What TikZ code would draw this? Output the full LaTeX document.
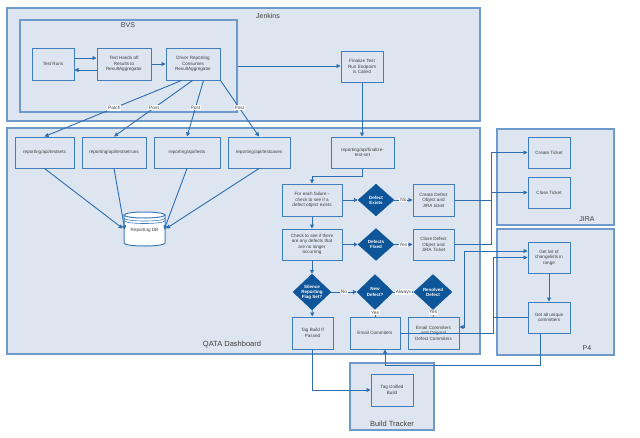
\documentclass[tikz,border=0pt]{standalone}
\usepackage{fontspec}
\setmainfont{Liberation Sans}
\usetikzlibrary{shapes.geometric,arrows.meta,calc}
\definecolor{cfill}{HTML}{DCE5F0}
\definecolor{cborder}{HTML}{6E9ACB}
\definecolor{bborder}{HTML}{3F7DBD}
\definecolor{lnc}{HTML}{2E6DB0}
\definecolor{dfill}{HTML}{0F5599}
\definecolor{txt}{HTML}{404040}
\begin{document}
\begin{tikzpicture}[x=1pt,y=-1pt]
\tikzset{
 cont/.style={draw=cborder, line width=1.2pt, fill=cfill, inner sep=0pt},
 box/.style={draw=bborder, line width=1pt, fill=cfill, inner sep=1pt, align=center, text=txt, font=\fontsize{4.6}{5.4}\selectfont},
 dec/.style={diamond, fill=dfill, draw=dfill, inner sep=0pt, align=center, text=white, font=\bfseries\fontsize{4.5}{5.1}\selectfont},
 conn/.style={draw=lnc, line width=0.9pt},
 arr/.style={conn, -{Triangle[length=4pt,width=4pt]}},
 arrb/.style={conn, {Triangle[length=4pt,width=4pt]}-{Triangle[length=4pt,width=4pt]}},
 lbl/.style={fill=white, inner sep=0.8pt, text=txt, font=\fontsize{4.8}{5.4}\selectfont},
 ctitle/.style={text=txt, font=\fontsize{7}{8}\selectfont},
}
\fill[white] (0,0) rectangle (640,437);
\useasboundingbox (0,0) rectangle (640,437);

% containers
\node[cont, minimum width=473pt, minimum height=113pt] (jenkins) at (243.5,64.5) {};
\node[ctitle] (jenkinsT) at (268,16) {Jenkins};
\node[cont, minimum width=217pt, minimum height=92pt] (bvs) at (128.5,66) {};
\node[ctitle] (bvsT) at (128,25) {BVS};
\node[cont, minimum width=473pt, minimum height=226pt] (qata) at (243.5,241) {};
\node[ctitle, font=\fontsize{7.5}{8}\selectfont] (qataT) at (232,344) {QATA Dashboard};
\node[cont, minimum width=117pt, minimum height=96pt] (jira) at (555.5,177) {};
\node[ctitle] (jiraT) at (587,219) {JIRA};
\node[cont, minimum width=117pt, minimum height=126pt] (p4) at (555.5,292) {};
\node[ctitle] (p4T) at (587,348) {P4};
\node[cont, minimum width=84pt, minimum height=67pt] (bt) at (392,396.5) {};
\node[ctitle, font=\fontsize{7.5}{8}\selectfont] (btT) at (392,424) {Build Tracker};

% Jenkins / BVS boxes
\node[box, minimum width=42pt, minimum height=32pt] (tr) at (53,64) {Test Runs};
\node[box, minimum width=54pt, minimum height=32pt] (hd) at (124,64) {Test Hands off\\Results to\\ResultAggregator};
\node[box, minimum width=54pt, minimum height=32pt] (drv) at (193,64) {Driver Reporting\\Consumes\\ResultAggregator};
\node[box, minimum width=42pt, minimum height=31pt] (fin) at (362,66.5) {Finalize Test\\Run Endpoint\\is Called};

% QATA boxes
\node[box, minimum width=59pt, minimum height=31pt] (ts) at (44.5,152.5) {reporting/api/testsets};
\node[box, minimum width=64pt, minimum height=31pt] (tsr) at (114,152.5) {reporting/api/testsetruns};
\node[box, minimum width=66pt, minimum height=31pt] (t) at (187,152.5) {reporting/api/tests};
\node[box, minimum width=62pt, minimum height=31pt] (tc) at (259,152.5) {reporting/api/testcases};
\node[box, minimum width=63pt, minimum height=31pt] (finset) at (362.5,152.5) {reporting/api/finalize-\\test-set};

% database cylinder
\filldraw[fill=white, draw=bborder, line width=1pt] (124,215) -- (124,243) .. controls (124,247) and (165,247) .. (165,243) -- (165,215);
\filldraw[fill=white, draw=bborder, line width=1pt] (144.5,215) ellipse [x radius=20.5, y radius=3];
\draw[bborder, line width=0.6pt] (124,218) .. controls (124,222) and (165,222) .. (165,218);
\draw[bborder, line width=0.6pt] (124,220.5) .. controls (124,224.5) and (165,224.5) .. (165,220.5);
\node[text=txt, font=\fontsize{4.6}{5.4}\selectfont, inner sep=0pt, minimum width=41pt, minimum height=34pt] (db) at (144.5,230.5) {Reporting DB};

\node[box, minimum width=60pt, minimum height=32pt] (fe) at (312,200) {For each failure -\\check to see if a\\defect object exists};
\node[dec, minimum width=36pt, minimum height=32pt] (dex) at (376,200) {Defect\\Exists};
\node[box, minimum width=41pt, minimum height=32pt] (cdf) at (433.5,200) {Create Defect\\Object and\\JIRA ticket};
\node[box, minimum width=60pt, minimum height=31pt] (chk) at (312,244.5) {Check to see if there\\are any defects that\\are no longer\\occurring};
\node[dec, minimum width=36pt, minimum height=32pt] (dfx) at (376,244.5) {Defects\\Fixed};
\node[box, minimum width=41pt, minimum height=31pt] (cld) at (433.5,244.5) {Close Defect\\Object and\\JIRA Ticket};
\node[dec, minimum width=38pt, minimum height=36pt] (sil) at (312,292) {Silence\\Reporting\\Flag Set?};
\node[dec, minimum width=36pt, minimum height=35pt] (nd) at (375,292) {New\\Defect?};
\node[dec, minimum width=38pt, minimum height=35pt] (rd) at (433,292) {Resolved\\Defect};
\node[box, minimum width=41pt, minimum height=32pt] (tb) at (312.5,333) {Tag Build If\\Passed};
\node[box, minimum width=50pt, minimum height=32pt] (ec) at (375,333) {Email Commiters};
\node[box, minimum width=51pt, minimum height=32pt] (eo) at (433.5,333) {Email Commiters\\and Original\\Defect Commiters};

% Build tracker
\node[box, minimum width=42pt, minimum height=32pt] (tu) at (392,390) {Tag Unified\\Build};

% JIRA
\node[box, minimum width=42pt, minimum height=31pt] (ct) at (549,152.5) {Create Ticket};
\node[box, minimum width=42pt, minimum height=31pt] (clt) at (549,192.5) {Close Ticket};

% P4
\node[box, minimum width=42pt, minimum height=31pt] (gl) at (549,257.5) {Get list of\\changelists in\\range};
\node[box, minimum width=42pt, minimum height=31pt] (ga) at (549,317.5) {Get all unique\\committers};

% connectors in BVS
\draw[arr] ($(tr.east)+(0,-6)$) -- ($(hd.west)+(0,-6)$);
\draw[arr] ($(hd.west)+(0,6)$) -- ($(tr.east)+(0,6)$);
\draw[arr] (hd) -- (drv);
\draw[arr] (bvs.east) -- (bvs.east -| fin.west);

\draw[arr] ($(drv.south west)+(16,0)$) -- node[lbl,pos=0.49]{Patch} (ts.north);
\draw[arr] ($(drv.south west)+(27,0)$) -- node[lbl,pos=0.49]{Post} (tsr.north);
\draw[arr] ($(drv.south west)+(38,0)$) -- node[lbl,pos=0.49]{Post} (t.north);
\draw[arr] (drv.south east) -- node[lbl,pos=0.49]{Post} (tc.north);

\draw[arr] (ts.south) -- ($(db.west)+(-1,-2)$);
\draw[arr] (tsr.south) -- ($(db.west)+(1,-1)$);
\draw[arr] (t.south) -- ($(db.east)+(-1,-1)$);
\draw[arr] (tc.south) -- ($(db.east)+(1,-2)$);

\draw[arr] (fin.south) -- (fin.south |- finset.north);
\draw[arr] (finset.south) -- ++(0,8) -| (fe.north);
\draw[arr] (fe) -- (dex);
\draw[arr] (dex) -- node[lbl]{No} (cdf);
\draw[arr] (fe) -- (chk);
\draw[arr] (chk) -- (dfx);
\draw[arr] (dfx) -- node[lbl]{Yes} (cld);
\draw[arr] (chk) -- (sil);
\draw[arr] (sil) -- node[lbl]{No} (nd);
\draw[arr] (nd) -- node[lbl]{Always} (rd);
\draw[arr] (sil) -- (tb);
\draw[conn] (nd) -- node[lbl,pos=0.4]{Yes} (ec);
\draw[conn] (rd) -- node[lbl,pos=0.4]{Yes} (eo);
\draw[arr] (tb.south) |- (tu.west);

% right side routing
\coordinate (busA) at (491,0);
\coordinate (busB) at (493,0);
\coordinate (busC) at (464,0);
\draw[arr] (cdf.east) -- (cdf.east -| busA) |- (ct.west);
\draw[arr] (cld.east) -- (cld.east -| busA) |- (clt.west);
\draw[arr] (ec.east) -- (ec.east -| busB) |- (gl.west);
\draw[arrb] ($(eo.east)+(0,-6)$) -- ($(eo.east -| busC)+(0,-6)$) |- ($(gl.west)+(0,-6.5)$);
\draw[conn] (ga.west) -- (ga.west -| busB);
\draw[arr] (gl) -- (ga);
\draw[arr] ($(ga.south)+(-9,0)$) -- ++(0,32) -| ($(ec.south)+(10,0)$);
\end{tikzpicture}
\end{document}
